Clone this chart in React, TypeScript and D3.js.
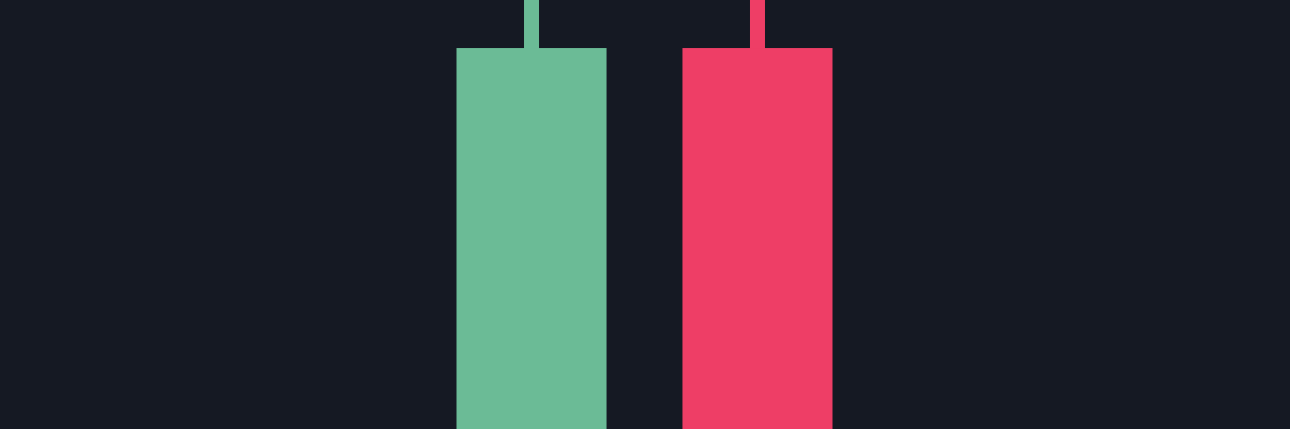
import React from "react";
import * as d3 from "d3";

const categories = ["C1", "C2"];
const opens = [-10, 88.8];
const closes = [88.8, -10];
const highs = [115, 115];
const lows = [-20, -20];
const colors = ["#6bbb96", "#ee3e66"];

const W = 1290;
const H = 429;

export default function App() {
  const x = d3
    .scaleBand<string>()
    .domain(categories)
    .range([456.5, 832.5])
    .paddingInner(0.336)
    .paddingOuter(0);
  const y = d3.scaleLinear().domain([0, 100]).range([H, 0]);
  const bw = x.bandwidth();
  const wickW = 15;

  return (
    <svg
      width={W}
      height={H}
      style={{ position: "fixed", left: 0, top: 0, display: "block" }}
    >
      <rect x={0} y={0} width={W} height={H} fill="#151923" />
      {categories.map((c, i) => {
        const x0 = x(c)!;
        const cx = x0 + bw / 2;
        const top = y(Math.max(opens[i], closes[i]));
        const bot = y(Math.min(opens[i], closes[i]));
        return (
          <g key={c}>
            <rect
              x={cx - wickW / 2}
              y={y(highs[i])}
              width={wickW}
              height={y(lows[i]) - y(highs[i])}
              fill={colors[i]}
            />
            <rect x={x0} y={top} width={bw} height={bot - top} fill={colors[i]} />
          </g>
        );
      })}
    </svg>
  );
}
